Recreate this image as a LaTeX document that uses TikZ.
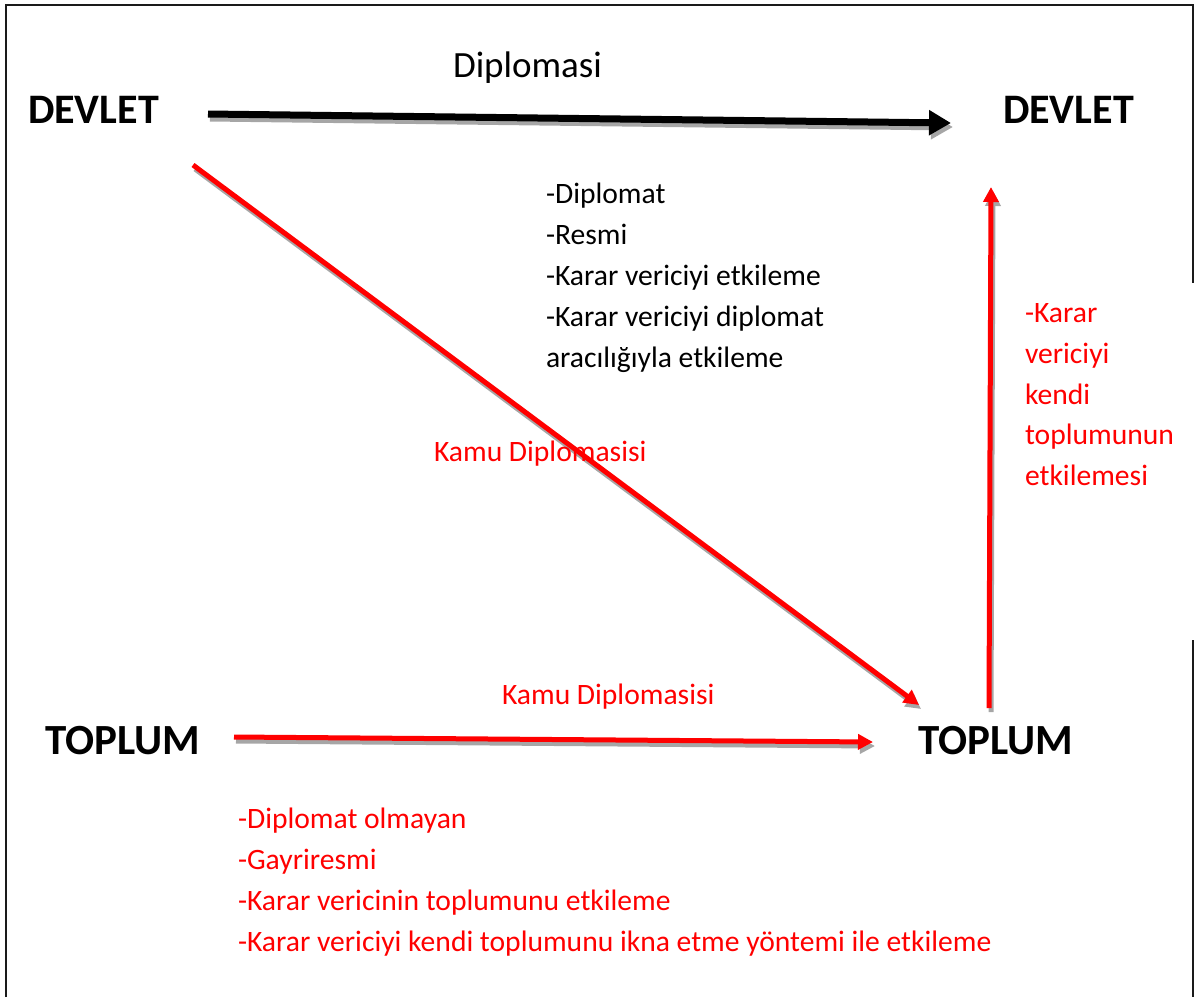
\documentclass[tikz,border=0pt]{standalone}
\usepackage{fontspec}
\setmainfont{Carlito}
\usetikzlibrary{arrows.meta}
\definecolor{shadowgray}{HTML}{A6A6A6}
\definecolor{framegray}{HTML}{1A1A1A}
\begin{document}
\begin{tikzpicture}[x=1pt,y=-1pt,
  txt/.style={anchor=base west, inner sep=0pt, outer sep=0pt, font=\fontsize{29.6}{35}\selectfont},
  redtxt/.style={txt, text=red},
  title/.style={anchor=base west, inner sep=0pt, outer sep=0pt, font=\bfseries\fontsize{43}{48}\selectfont},
  blackarrow/.style={line width=7pt, -{Triangle[length=22pt,width=24pt]}},
  redarrow/.style={line width=5pt, -{Triangle[length=15pt,width=15pt]}},
  shadowed/.style={shadowgray, transform canvas={shift={(2,4)}}},
  frameline/.style={draw=framegray, line width=2pt}
]
\useasboundingbox (0,0) rectangle (1197,997);
% frame
\coordinate (f1) at (6,997);
\coordinate (f2) at (6,5);
\coordinate (f3) at (1193,5);
\coordinate (f4) at (1193,283);
\coordinate (f5) at (1193,640);
\coordinate (f6) at (1193,997);
\draw[frameline] (f1) -- (f2) -- (f3) -- (f4);
\draw[frameline] (f5) -- (f6);

% main labels
\node[title, font=\bfseries\fontsize{42}{48}\selectfont] (devL) at (28,123) {DEVLET};
\node[title, font=\bfseries\fontsize{42}{48}\selectfont] (devR) at (1003,123) {DEVLET};
\node[title] (topL) at (45,754) {TOPLUM};
\node[title] (topR) at (918,754) {TOPLUM};

\node[txt, font=\fontsize{37}{42}\selectfont] (dip) at (453,77) {Diplomasi};

% black list
\node[txt] (b1) at (546,203) {-Diplomat};
\node[txt] (b2) at (546,244) {-Resmi};
\node[txt] (b3) at (546,285) {-Karar vericiyi etkileme};
\node[txt] (b4) at (546,326) {-Karar vericiyi diplomat};
\node[txt] (b5) at (546,367) {aracılığıyla etkileme};

% right red list
\node[redtxt] (r1) at (1025,322) {-Karar};
\node[redtxt] (r2) at (1025,363) {vericiyi};
\node[redtxt] (r3) at (1025,404) {kendi};
\node[redtxt] (r4) at (1025,444) {toplumunun};
\node[redtxt] (r5) at (1025,485) {etkilemesi};

% bottom red list
\node[redtxt] (t1) at (238,828) {-Diplomat olmayan};
\node[redtxt] (t2) at (238,869) {-Gayriresmi};
\node[redtxt] (t3) at (238,910) {-Karar vericinin toplumunu etkileme};
\node[redtxt] (t4) at (238,951) {-Karar vericiyi kendi toplumunu ikna etme yöntemi ile etkileme};

% arrows
\coordinate (a1s) at (208,114);
\coordinate (a1e) at (951,123);
\coordinate (a2s) at (193,165);
\coordinate (a2e) at (919,705);
\coordinate (a3s) at (234,737);
\coordinate (a3e) at (873,742);
\coordinate (a4s) at (989,708);
\coordinate (a4e) at (991,187);

\draw[blackarrow, shadowed] (a1s) -- (a1e);
\draw[blackarrow, black] (a1s) -- (a1e);
\draw[redarrow, shadowed] (a2s) -- (a2e);
\draw[redarrow, red] (a2s) -- (a2e);
\draw[redarrow, shadowed] (a3s) -- (a3e);
\draw[redarrow, red] (a3s) -- (a3e);
\draw[redarrow, shadowed] (a4s) -- (a4e);
\draw[redarrow, red] (a4s) -- (a4e);

% arrow labels
\node[redtxt] (k1) at (434,461) {Kamu Diplomasisi};
\node[redtxt] (k2) at (502,704) {Kamu Diplomasisi};
\end{tikzpicture}
\end{document}
